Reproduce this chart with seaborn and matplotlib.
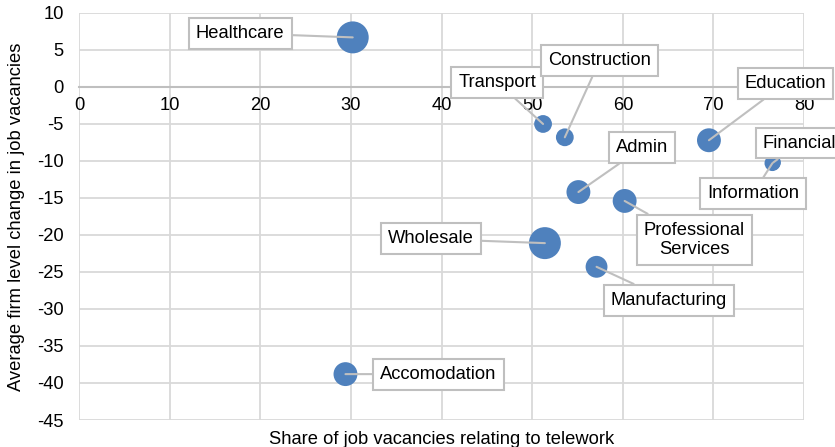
import pandas as pd
import seaborn as sns
import matplotlib.pyplot as plt

# Data
sectors = ['Healthcare', 'Transport', 'Construction', 'Education', 'Financial', 'Information',
           'Admin', 'Professional\nServices', 'Wholesale', 'Manufacturing', 'Accomodation']
telework_share = [30.2, 51.2, 53.6, 69.5, 76.6, 76.5, 55.1, 60.2, 51.4, 57.1, 29.4]
vacancy_change = [6.7, -5.0, -6.8, -7.2, -10.2, -10.3, -14.2, -15.4, -21.1, -24.3, -38.8]
bubble = [256, 81, 81, 144, 60, 64, 144, 144, 256, 121, 144]

# label offsets (points) from each bubble
offsets = [(-81, 3), (-33, 30), (25, 55), (55, 41), (19, 14), (-14, -22),
           (46, 32), (50, -28), (-82, 3), (52, -24), (67, 0)]

df = pd.DataFrame({'sector': sectors, 'x': telework_share, 'y': vacancy_change, 'size': bubble})

sns.set_style('white')
plt.rcParams['font.family'] = ['Liberation Sans', 'DejaVu Sans']
plt.rcParams['axes.unicode_minus'] = False
fs = 13.2

fig, ax = plt.subplots(figsize=(8.35, 4.47), dpi=100)
fig.subplots_adjust(left=0.0946, right=0.963, top=0.971, bottom=0.0604)

sns.scatterplot(data=df, x='x', y='y', size='size', sizes=(120, 530), color='#4F81BD',
                edgecolor='none', alpha=1, legend=False, ax=ax, zorder=3)

ax.set_xlim(0, 80)
ax.set_ylim(-45, 10)
ax.set_xticks(range(0, 81, 10))
ax.set_yticks(range(-45, 11, 5))
ax.grid(True, color='#d9d9d9', linewidth=1.3)
ax.set_axisbelow(True)

for side in ['top', 'right', 'left']:
    ax.spines[side].set_visible(False)
ax.spines['bottom'].set_position(('data', 0))
ax.spines['bottom'].set_color('#bfbfbf')
ax.spines['bottom'].set_linewidth(1.5)
ax.tick_params(length=0, labelsize=fs, colors='black')
ax.tick_params(axis='x', pad=7)
ax.tick_params(axis='y', pad=11)

ax.set_xlabel('Share of job vacancies relating to telework', fontsize=fs, color='black')
ax.set_ylabel('Average firm level change in job vacancies', fontsize=fs, color='black')
ax.xaxis.set_label_coords(0.5, -0.028)
ax.yaxis.set_label_coords(-0.074, 0.5)

for name, x, y, off in zip(sectors, telework_share, vacancy_change, offsets):
    ax.annotate(name, xy=(x, y), xytext=off, textcoords='offset points',
                ha='center', va='center', multialignment='center', fontsize=fs,
                color='black', zorder=5,
                bbox=dict(boxstyle='square,pad=0.38', fc='white', ec='#bfbfbf', lw=1.5),
                arrowprops=dict(arrowstyle='-', color='#bfbfbf', lw=1.5, shrinkA=0, shrinkB=0))

fig.savefig('out.png', dpi=100)
